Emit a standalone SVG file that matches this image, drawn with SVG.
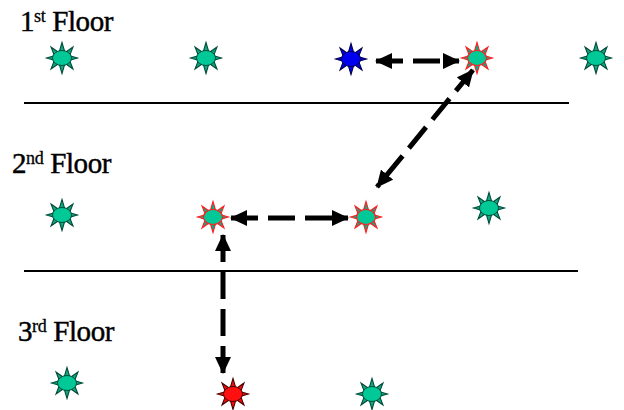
<svg xmlns="http://www.w3.org/2000/svg" width="624" height="410" viewBox="0 0 624 410">
<style>
.lbl{font-size:29px;fill:#000;stroke:#000;stroke-width:0.45;letter-spacing:-0.4px}
.sup{font-size:18px;stroke-width:0.3}
.floor{stroke:#000;stroke-width:2;fill:none}
.conn{stroke:#000;stroke-width:5;fill:none;stroke-dasharray:27 10}
.spk{stroke-width:1.1;stroke-linejoin:miter}
.teal .spk{fill:#12a684;stroke:#004d3a}
.teal ellipse{fill:#00c896;stroke:#004d3a;stroke-width:1}
.redo .spk{fill:#12a684;stroke:#ff2020}
.redo ellipse{fill:#00c896;stroke:#ff2020;stroke-width:1.2}
.blue .spk{fill:#0000ee;stroke:#000050}
.blue ellipse{fill:#0000ee;stroke:#000050;stroke-width:1}
.red .spk{fill:#ee1010;stroke:#500000}
.red ellipse{fill:#ff1010;stroke:#500000;stroke-width:1}
</style>
<defs>
<polygon id="stp" points="8.6,-2.05 15.5,0 8.6,2.05 7.95,3.29 10.96,10.96 4.22,6.18 2.63,6.69 0,15.5 -2.63,6.69 -4.22,6.18 -10.96,10.96 -7.95,3.29 -8.6,2.05 -15.5,0 -8.6,-2.05 -7.95,-3.29 -10.96,-10.96 -4.22,-6.18 -2.63,-6.69 0,-15.5 2.63,-6.69 4.22,-6.18 10.96,-10.96 7.95,-3.29"/>
<marker id="ah" viewBox="0 0 17 16" refX="16" refY="8" markerWidth="17" markerHeight="16" markerUnits="userSpaceOnUse" orient="auto-start-reverse">
<path d="M0,0 L17,8 L0,16 Z" fill="#000"/>
</marker>
</defs>

<g id="labels" font-family="Liberation Serif, DejaVu Serif, serif">
<text class="lbl" x="20" y="31">1<tspan class="sup" dy="-9">st</tspan><tspan dy="9"> Floor</tspan></text>
<text class="lbl" x="12" y="173">2<tspan class="sup" dy="-9">nd</tspan><tspan dy="9"> Floor</tspan></text>
<text class="lbl" x="18" y="341">3<tspan class="sup" dy="-9">rd</tspan><tspan dy="9"> Floor</tspan></text>
</g>

<g id="floors">
<line class="floor" x1="24" y1="103" x2="569" y2="103"/>
<line class="floor" x1="24" y1="271" x2="578" y2="271"/>
</g>

<g id="n1a" class="teal" transform="translate(62,58)"><use href="#stp" class="spk"/><ellipse rx="9.5" ry="7.5"/></g>
<g id="n1b" class="teal" transform="translate(206,58)"><use href="#stp" class="spk"/><ellipse rx="9.5" ry="7.5"/></g>
<g id="n1c" class="blue" transform="translate(351,59)"><use href="#stp" class="spk"/><ellipse rx="9.5" ry="7.5"/></g>
<g id="n1d" class="redo" transform="translate(477,58)"><use href="#stp" class="spk"/><ellipse rx="9.5" ry="7.5"/></g>
<g id="n1e" class="teal" transform="translate(596,58)"><use href="#stp" class="spk"/><ellipse rx="9.5" ry="7.5"/></g>

<g id="n2a" class="teal" transform="translate(62,215)"><use href="#stp" class="spk"/><ellipse rx="9.5" ry="7.5"/></g>
<g id="n2b" class="redo" transform="translate(213,217)"><use href="#stp" class="spk"/><ellipse rx="9.5" ry="7.5"/></g>
<g id="n2c" class="redo" transform="translate(366,217)"><use href="#stp" class="spk"/><ellipse rx="9.5" ry="7.5"/></g>
<g id="n2d" class="teal" transform="translate(489,208)"><use href="#stp" class="spk"/><ellipse rx="9.5" ry="7.5"/></g>

<g id="n3a" class="teal" transform="translate(67,383)"><use href="#stp" class="spk"/><ellipse rx="9.5" ry="7.5"/></g>
<g id="n3b" class="red" transform="translate(233,394)"><use href="#stp" class="spk"/><ellipse rx="9.5" ry="7.5"/></g>
<g id="n3c" class="teal" transform="translate(372,394)"><use href="#stp" class="spk"/><ellipse rx="9.5" ry="7.5"/></g>

<g id="connectors">
<path class="conn" d="M376,61 L459,61" marker-start="url(#ah)" marker-end="url(#ah)"/>
<path class="conn" d="M473,70 L377,187" marker-start="url(#ah)" marker-end="url(#ah)"/>
<path class="conn" d="M231,218 L348,218" marker-start="url(#ah)" marker-end="url(#ah)"/>
<path class="conn" d="M223,235 L223,373" marker-start="url(#ah)" marker-end="url(#ah)"/>
</g>
</svg>
